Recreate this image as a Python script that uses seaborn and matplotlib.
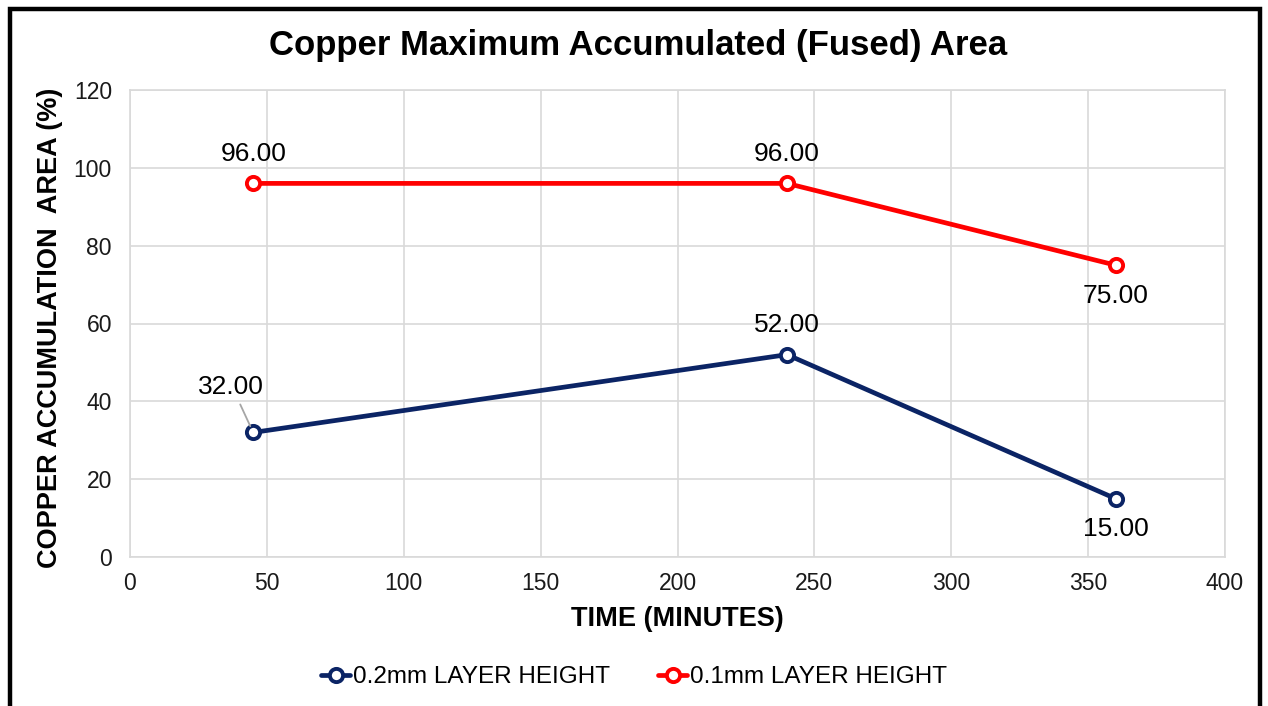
import matplotlib
matplotlib.use("Agg")
import matplotlib.pyplot as plt
import seaborn as sns
import pandas as pd
from matplotlib.patches import Rectangle

time_min = [45, 240, 360]
layer_02 = [32.0, 52.0, 15.0]
layer_01 = [96.0, 96.0, 75.0]
series_names = ["0.2mm LAYER HEIGHT", "0.1mm LAYER HEIGHT"]
colors = ["#0B2465", "#FF0000"]
x_ticks = [0, 50, 100, 150, 200, 250, 300, 350, 400]
y_ticks = [0, 20, 40, 60, 80, 100, 120]

df = pd.DataFrame({
    "time": time_min * 2,
    "value": layer_02 + layer_01,
    "series": [series_names[0]] * 3 + [series_names[1]] * 3,
})

sns.set_theme(style="white")
plt.rcParams["font.family"] = ["Liberation Sans", "DejaVu Sans"]
plt.rcParams["text.color"] = "black"

fig = plt.figure(figsize=(12.68, 7.06), dpi=100)
ax = fig.add_axes([130/1268, 1-557/706, 1095/1268, 467/706])

for name, col in zip(series_names, colors):
    sub = df[df["series"] == name]
    sns.lineplot(data=sub, x="time", y="value", ax=ax, color=col, lw=3.4,
                 marker="o", markersize=9.5, markerfacecolor="white",
                 markeredgecolor=col, markeredgewidth=2.8, label=name,
                 zorder=3)

ax.set_xlim(0, 400)
ax.set_ylim(0, 120)
ax.set_xticks(x_ticks)
ax.set_yticks(y_ticks)
ax.grid(True, color="#D9D9D9", lw=1.2)
for s in ax.spines.values():
    s.set_color("#D9D9D9")
    s.set_linewidth(1.2)
ax.tick_params(axis="both", length=0, labelsize=16.5, colors="#1A1A1A")
ax.tick_params(axis="y", pad=13)
ax.tick_params(axis="x", pad=11)

ax.set_xlabel("TIME (MINUTES)", fontsize=19.5, fontweight="bold", color="black")
ax.xaxis.set_label_coords(0.5, -0.104)
ax.set_ylabel("COPPER ACCUMULATION  AREA (%)", fontsize=19.5, fontweight="bold",
              color="black", va="center")
ax.yaxis.set_label_coords(-0.0735, 0.49)

fs = 19
# labels for 0.1mm series
ax.annotate(f"{layer_01[0]:.2f}", (time_min[0], layer_01[0]), xytext=(0, 21),
            textcoords="offset points", ha="center", va="center", fontsize=fs)
ax.annotate(f"{layer_01[1]:.2f}", (time_min[1], layer_01[1]), xytext=(0, 21),
            textcoords="offset points", ha="center", va="center", fontsize=fs)
ax.annotate(f"{layer_01[2]:.2f}", (time_min[2], layer_01[2]), xytext=(0, -22),
            textcoords="offset points", ha="center", va="center", fontsize=fs)
# labels for 0.2mm series
ax.annotate(f"{layer_02[0]:.2f}", (time_min[0], layer_02[0]), xytext=(-16, 33),
            textcoords="offset points", ha="center", va="center", fontsize=fs,
            arrowprops=dict(arrowstyle="-", color="#A6A6A6", lw=1.3,
                            shrinkA=2, shrinkB=5,
                            relpos=(0.6, 0.0)))
ax.annotate(f"{layer_02[1]:.2f}", (time_min[1], layer_02[1]), xytext=(0, 21),
            textcoords="offset points", ha="center", va="center", fontsize=fs)
ax.annotate(f"{layer_02[2]:.2f}", (time_min[2], layer_02[2]), xytext=(0, -22),
            textcoords="offset points", ha="center", va="center", fontsize=fs)

if ax.legend_:
    ax.legend_.remove()
h, l = ax.get_legend_handles_labels()
fig.legend(h, l, loc="center", bbox_to_anchor=(0.5, 1-677/706), ncol=2,
           frameon=False, fontsize=17.5, handlelength=1.2, handletextpad=0.1,
           columnspacing=2.0)

fig.text(0.503, 1-45/706, "Copper Maximum Accumulated (Fused) Area",
         ha="center", va="center", fontsize=25, fontweight="bold", color="black")

fig.patches.append(Rectangle((10/1268, -5/706), 1250/1268, 702/706,
                             transform=fig.transFigure, fill=False,
                             edgecolor="black", lw=3.2, zorder=10))

fig.savefig("out.png", dpi=100)
